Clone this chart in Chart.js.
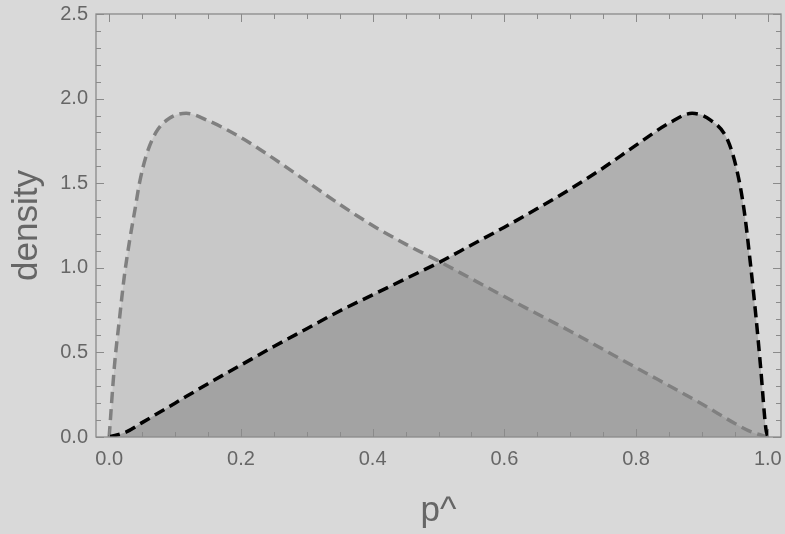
<!DOCTYPE html>
<html>
<head>
<meta charset="utf-8">
<script src="https://cdn.jsdelivr.net/npm/chart.js@4"></script>
<style>
  html, body { margin: 0; padding: 0; background: #d9d9d9; }
</style>
</head>
<body>
<canvas id="chart" width="785" height="534"></canvas>
<script>
// left-skewed density (grey dashed)
const pHatGrey = [0, 0.008, 0.016, 0.023, 0.031, 0.039, 0.046, 0.056, 0.071, 0.092, 0.117, 0.15, 0.2, 0.25, 0.3, 0.35, 0.4, 0.45, 0.5, 0.55, 0.6, 0.7, 0.8, 0.9, 0.95, 0.975, 1.0];
const densityGrey = [0, 0.42, 0.71, 0.95, 1.16, 1.34, 1.50, 1.66, 1.80, 1.885, 1.913, 1.87, 1.77, 1.645, 1.51, 1.375, 1.25, 1.14, 1.04, 0.935, 0.83, 0.625, 0.41, 0.195, 0.08, 0.03, 0];

// right-skewed density (black dashed)
const pHatBlack = [0, 0.026, 0.05, 0.1, 0.15, 0.2, 0.25, 0.3, 0.35, 0.4, 0.45, 0.5, 0.55, 0.6, 0.65, 0.7, 0.75, 0.8, 0.85, 0.885, 0.913, 0.939, 0.954, 0.964, 0.974, 0.982, 0.989, 0.997, 1.0];
const densityBlack = [0, 0.03, 0.085, 0.2, 0.315, 0.425, 0.535, 0.64, 0.745, 0.84, 0.935, 1.03, 1.135, 1.24, 1.35, 1.465, 1.59, 1.725, 1.855, 1.913, 1.873, 1.755, 1.56, 1.34, 1.01, 0.71, 0.415, 0.05, 0];

const xTicks = [0, 0.2, 0.4, 0.6, 0.8, 1.0];
const yTicks = [0, 0.5, 1.0, 1.5, 2.0, 2.5];

function toPoints(xs, ys) {
    return xs.map((x, i) => ({ x: x, y: ys[i] }));
}

// Mathematica-style frame with inward ticks on all four sides
const framePlugin = {
    id: 'frame',
    afterDatasetsDraw(chart) {
        const { ctx, chartArea: a, scales: { x, y } } = chart;
        ctx.save();
        ctx.strokeStyle = '#8a8a8a';
        ctx.lineWidth = 1.3;
        ctx.strokeRect(a.left, a.top, a.right - a.left, a.bottom - a.top);
        ctx.beginPath();
        for (let i = 0; i <= 20; i++) {
            const v = i * 0.05;
            const px = Math.round(x.getPixelForValue(v)) + 0.5;
            const len = i % 4 === 0 ? 8 : 5;
            ctx.moveTo(px, a.bottom); ctx.lineTo(px, a.bottom - len);
            ctx.moveTo(px, a.top); ctx.lineTo(px, a.top + len);
        }
        for (let i = 0; i <= 25; i++) {
            const v = i * 0.1;
            const py = Math.round(y.getPixelForValue(v)) + 0.5;
            const len = i % 5 === 0 ? 8 : 5;
            ctx.moveTo(a.left, py); ctx.lineTo(a.left + len, py);
            ctx.moveTo(a.right, py); ctx.lineTo(a.right - len, py);
        }
        ctx.lineWidth = 1;
        ctx.stroke();
        ctx.restore();
    }
};

new Chart(document.getElementById('chart'), {
    type: 'line',
    data: {
        datasets: [
            {
                data: toPoints(pHatBlack, densityBlack),
                borderColor: '#000000',
                borderWidth: 3.5,
                borderDash: [11, 6],
                backgroundColor: 'rgba(0,0,0,0.19)',
                fill: 'origin',
                pointRadius: 0,
                cubicInterpolationMode: 'monotone'
            },
            {
                data: toPoints(pHatGrey, densityGrey),
                borderColor: '#808080',
                borderWidth: 3.5,
                borderDash: [11, 6],
                backgroundColor: 'rgba(0,0,0,0.075)',
                fill: 'origin',
                pointRadius: 0,
                cubicInterpolationMode: 'monotone'
            }
        ]
    },
    options: {
        responsive: false,
        animation: false,
        layout: { padding: { top: 14, right: 4, left: 0, bottom: 0 } },
        plugins: {
            legend: { display: false },
            tooltip: { enabled: false },
            filler: { drawTime: 'beforeDatasetsDraw' }
        },
        scales: {
            x: {
                type: 'linear',
                min: -0.02,
                max: 1.02,
                afterBuildTicks: s => { s.ticks = xTicks.map(v => ({ value: v })); },
                afterFit: s => { s.height = 97; s.paddingLeft = 0; s.paddingRight = 0; },
                grid: { display: false, drawTicks: false },
                border: { display: false },
                ticks: {
                    color: '#666666',
                    font: { family: 'Liberation Sans', size: 20 },
                    padding: 10,
                    maxRotation: 0,
                    callback: v => v.toFixed(1)
                },
                title: {
                    display: true,
                    text: 'p^',
                    color: '#666666',
                    font: { family: 'Liberation Sans', size: 35 },
                    padding: { top: 0, bottom: 2 }
                }
            },
            y: {
                type: 'linear',
                min: 0,
                max: 2.5,
                afterBuildTicks: s => { s.ticks = yTicks.map(v => ({ value: v })); },
                afterFit: s => { s.width = 96; s.paddingTop = 0; s.paddingBottom = 0; },
                grid: { display: false, drawTicks: false },
                border: { display: false },
                ticks: {
                    color: '#666666',
                    font: { family: 'Liberation Sans', size: 20 },
                    padding: 8,
                    callback: v => v.toFixed(1)
                },
                title: {
                    display: true,
                    text: 'density',
                    color: '#666666',
                    font: { family: 'Liberation Sans', size: 35 },
                    padding: { top: 6, bottom: 0 }
                }
            }
        }
    },
    plugins: [framePlugin]
});
</script>
</body>
</html>
